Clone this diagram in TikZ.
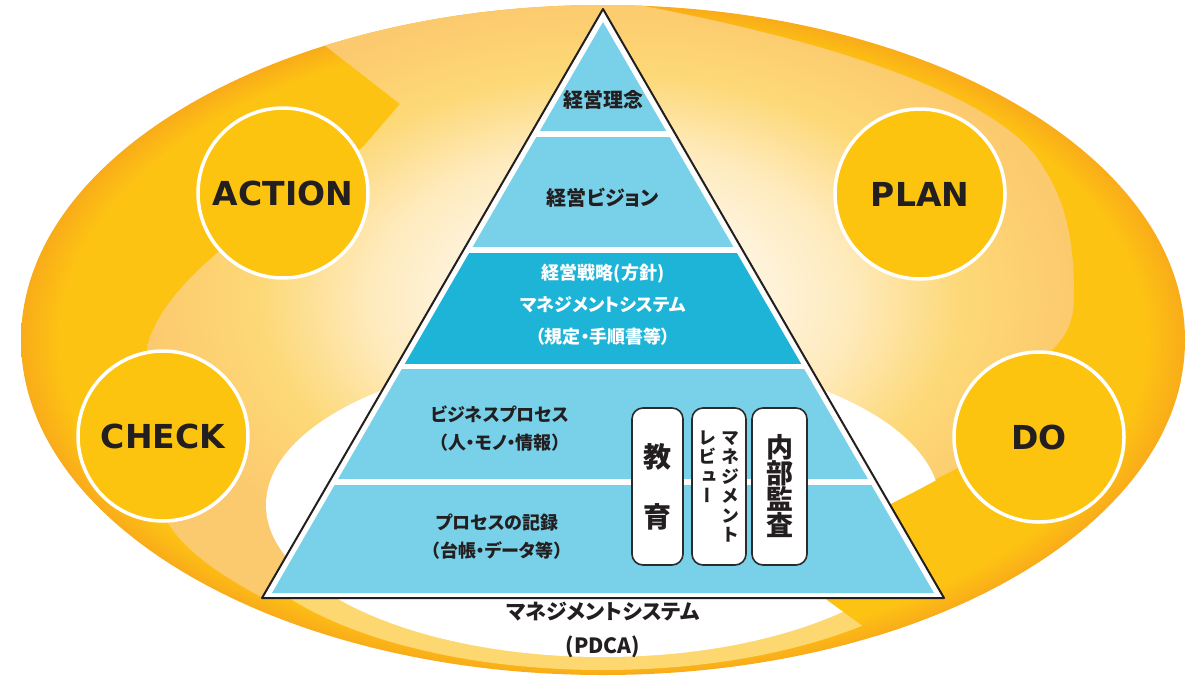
\documentclass[tikz,border=0pt]{standalone}
\usepackage{fontspec}
\usepackage{tikz}
\newfontfamily\jp{Noto Sans CJK JP}[RawFeature=+palt]
\newfontfamily\jpv{Noto Sans CJK JP}[RawFeature=+vert]
\newfontfamily\lat{DejaVu Sans}
\definecolor{ink}{RGB}{35,31,32}
\definecolor{boxline}{RGB}{43,43,43}
\definecolor{pyrlight}{RGB}{120,209,232}
\definecolor{pyrdark}{RGB}{29,180,216}
\definecolor{phasefill}{RGB}{253,196,15}
\definecolor{crescent}{RGB}{253,215,112}
\definecolor{bandyellow}{RGB}{253,195,18}
\definecolor{bandorange}{RGB}{249,172,26}
\definecolor{glowcream}{RGB}{254,246,228}
\definecolor{glowpale}{RGB}{254,234,188}
\definecolor{glowyellow}{RGB}{253,216,118}
\definecolor{gloworange}{RGB}{252,202,110}
\pgfdeclareradialshading{ringshade}{\pgfpoint{0bp}{0bp}}{color(0bp)=(bandyellow); color(23.3bp)=(bandyellow); color(25bp)=(bandorange); color(50bp)=(bandorange)}
\pgfdeclareradialshading{glowshade}{\pgfpoint{0bp}{0bp}}{color(0bp)=(glowcream); color(7bp)=(glowcream); color(13bp)=(glowpale); color(19bp)=(glowyellow); color(25bp)=(gloworange); color(50bp)=(gloworange)}
% vertical text: one character per line
\newcommand\tatecol[2]{\vtop{\baselineskip=#1\lineskiplimit=-\maxdimen\lineskip=0pt\tatechars#2\relax}}
\def\tatechars#1{\ifx\relax#1\else\hbox{#1}\expandafter\tatechars\fi}

\begin{document}
\begin{tikzpicture}[x=1pt,y=-1pt, line join=round,
  phase/.style={circle, minimum size=170pt, inner sep=0pt, fill=phasefill, draw=white, line width=3.5pt, text=ink, font=\lat\bfseries\fontsize{33}{33}\selectfont},
  layer/.style={align=center, text=ink, font=\jp\bfseries\fontsize{18}{28}\selectfont},
  tatebox/.style={draw=boxline, line width=1.6pt, fill=white, rounded corners=11pt, minimum height=157pt, inner sep=0pt, text=ink, align=center}]
\useasboundingbox (0,0) rectangle (1201,675);
% PDCA ring
\begin{scope}
  \clip (603,340) ellipse [x radius=582, y radius=335];
  \shade[shading=ringshade] (603,340) ellipse [x radius=582, y radius=335];
  \shade[shading=glowshade] (292,20) -- (400,104) -- (363,147) -- (217,253) .. controls (180,285) and (155,315) .. (147,347) -- (168,523) .. controls (185,550) and (215,572) .. (263,598) -- (700,598) -- (820,537) -- (958,468) -- (1050,352) .. controls (1068,335) and (1074,320) .. (1074,295) .. controls (1074,225) and (1060,190) .. (1035,155) .. controls (990,100) and (860,45) .. (612,0) -- (292,0) -- cycle;
  \begin{scope}
    \clip (255,598) rectangle (1000,700);
    \fill[crescent] (603,505) ellipse [x radius=380, y radius=165];
  \end{scope}
  \fill[white] (603,505) ellipse [x radius=337, y radius=152];
  \begin{scope}
    \clip (800,548) .. controls (870,515) and (920,490) .. (958,468) -- (1000,380) -- (1200,380) -- (1200,700) -- (921,668) -- (827,600) -- cycle;
    \shade[shading=ringshade] (603,340) ellipse [x radius=582, y radius=335];
  \end{scope}
\end{scope}
\node[phase] (action) at (283,193) {ACTION};
\node[phase] (plan) at (920,194) {PLAN};
\node[phase] (check) at (163,436) {CHECK};
\node[phase] (do) at (1039,437) {DO};
% pyramid
\filldraw[fill=white, draw=ink, line width=2pt] (603,9) -- (944,598) -- (262,598) -- cycle;
\begin{scope}
  \clip (603,22) -- (934,593) -- (272,593) -- cycle;
  \foreach \ytop/\ybot/\col in {0/131/pyrlight, 137/247/pyrlight, 253/364/pyrdark, 369/479/pyrlight, 485/600/pyrlight}
    \fill[\col] (200,\ytop) rectangle (1000,\ybot);
\end{scope}
\node[layer, font=\jp\bfseries\fontsize{20}{28}\selectfont] (rinen) at (603,100) {経営理念};
\node[layer, font=\jp\bfseries\fontsize{20}{28}\selectfont] (vision) at (603,198) {経営ビジョン};
\node[layer, text=white, font=\jp\bfseries\fontsize{18}{32}\selectfont] (senryaku) at (603,305) {経営戦略(方針)\\マネジメントシステム\\（規定・手順書等）};
\node[layer] (process) at (500,429) {ビジネスプロセス\\（人・モノ・情報）};
\node[layer] (kiroku) at (497,537) {プロセスの記録\\（台帳・データ等）};
\node[tatebox, minimum width=51pt, font=\jp\bfseries\fontsize{28}{28}\selectfont] (kyoiku) at (657.5,486.5) {\tatecol{60pt}{教育}};
\node[tatebox, minimum width=54pt, font=\jpv\bfseries\fontsize{18}{19.5}\selectfont] (review) at (719,486.5) {\tatecol{19.5pt}{レビュー}\hspace{5pt}\tatecol{19.5pt}{マネジメント}};
\node[tatebox, minimum width=55pt, font=\jp\bfseries\fontsize{27}{27}\selectfont] (kansa) at (779.5,486.5) {\tatecol{26pt}{内部監査}};
\node[layer, font=\jp\bfseries\fontsize{21}{34}\selectfont] (pdca) at (603,630) {マネジメントシステム\\(PDCA)};
\end{tikzpicture}
\end{document}
